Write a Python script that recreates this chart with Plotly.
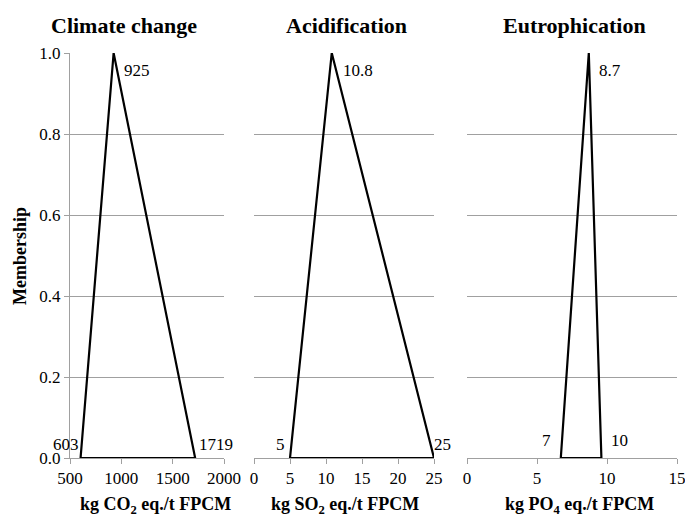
import plotly.graph_objects as go

# Triangular fuzzy numbers per impact category
categories = ["Climate change", "Acidification", "Eutrophication"]
x_titles = ["kg CO<sub>2</sub> eq./t FPCM",
            "kg SO<sub>2</sub> eq./t FPCM",
            "kg PO<sub>4</sub> eq./t FPCM"]
lower = [603, 5, 6.7]
peak = [925, 10.8, 8.7]
upper = [1719, 25, 9.6]
x_ranges = [[500, 2000], [0, 25], [0, 15]]
x_dticks = [500, 5, 5]
y_ticks = [0.0, 0.2, 0.4, 0.6, 0.8, 1.0]

FONT = "Liberation Serif"
GRID = "#a0a0a0"
W, H = 685, 518

# plot-area placement (paper fractions)
x_domains = [[70 / W, 224 / W], [254 / W, 434 / W], [467 / W, 677 / W]]
y_domain = [1 - 458 / H, 1 - 53 / H]

# label offsets (px): lower, peak, upper
lower_shift = [(0, 2), (-3, 2), (-8, 6)]
upper_shift = [(2, 2), (-2, 2), (8, 6)]
peak_shift = [(8, -6), (9, -6), (8, -6)]

fig = go.Figure()
annotations = []

for i, name in enumerate(categories):
    ax = "" if i == 0 else str(i + 1)
    fig.add_trace(go.Scatter(
        x=[lower[i], peak[i], upper[i], lower[i]],
        y=[0, 1, 0, 0],
        mode="lines",
        line=dict(color="black", width=2.2),
        xaxis="x" + ax, yaxis="y" + ax,
        cliponaxis=False, showlegend=False, hoverinfo="x+y",
    ))

    xr, yr = "x" + ax, "y" + ax
    lbl_font = dict(family=FONT, size=17, color="black")
    annotations += [
        dict(x=lower[i], y=0, xref=xr, yref=yr, text=f"{lower[i]:.0f}",
             xanchor="right", yanchor="bottom", showarrow=False,
             xshift=lower_shift[i][0], yshift=lower_shift[i][1], font=lbl_font),
        dict(x=upper[i], y=0, xref=xr, yref=yr, text=f"{upper[i]:.0f}",
             xanchor="left", yanchor="bottom", showarrow=False,
             xshift=upper_shift[i][0], yshift=upper_shift[i][1], font=lbl_font),
        dict(x=peak[i], y=1, xref=xr, yref=yr, text=f"{peak[i]:g}",
             xanchor="left", yanchor="top", showarrow=False,
             xshift=peak_shift[i][0], yshift=peak_shift[i][1], font=lbl_font),
    ]

    # panel title
    title_x = [124, 346, 574][i] / W
    annotations.append(dict(
        x=title_x, y=1 - 25 / H, xref="paper", yref="paper", text=f"<b>{name}</b>",
        showarrow=False, xanchor="center", yanchor="middle",
        font=dict(family=FONT, size=22, color="black")))

    # x-axis title
    xt_x = [155, 345, 579][i] / W
    annotations.append(dict(
        x=xt_x, y=1 - 505 / H, xref="paper", yref="paper", text=f"<b>{x_titles[i]}</b>",
        showarrow=False, xanchor="center", yanchor="middle",
        font=dict(family=FONT, size=18, color="black")))

    fig.update_layout(**{
        "xaxis" + ax: dict(
            domain=x_domains[i], range=x_ranges[i], dtick=x_dticks[i], tick0=0,
            anchor="y" + ax, showgrid=False, zeroline=False, automargin=False,
            ticklabeloverflow="allow",
            showline=True, linecolor=GRID, linewidth=1,
            ticks="outside", ticklen=5, tickcolor=GRID,
            tickfont=dict(family=FONT, size=17, color="black"),
        ),
        "yaxis" + ax: dict(
            domain=y_domain, range=[0, 1], tickvals=y_ticks,
            ticktext=[f"{v:.1f}" for v in y_ticks], anchor="x" + ax,
            showgrid=True, gridcolor=GRID, gridwidth=1, zeroline=False,
            automargin=False,
            showline=(i == 0), linecolor=GRID, linewidth=1,
            ticks="outside" if i == 0 else "", ticklen=5, tickcolor=GRID,
            showticklabels=(i == 0),
            tickfont=dict(family=FONT, size=17, color="black"),
        ),
    })

annotations.append(dict(
    x=20 / W, y=1 - 256 / H, xref="paper", yref="paper", text="<b>Membership</b>",
    textangle=-90, showarrow=False, xanchor="center", yanchor="middle",
    font=dict(family=FONT, size=18, color="black")))

fig.update_layout(
    width=W, height=H, autosize=False,
    margin=dict(l=0, r=0, t=0, b=0, pad=0, autoexpand=False),
    paper_bgcolor="white", plot_bgcolor="white",
    annotations=annotations,
    font=dict(family=FONT, color="black"),
)

fig.write_html("out.html", config={"responsive": False})
